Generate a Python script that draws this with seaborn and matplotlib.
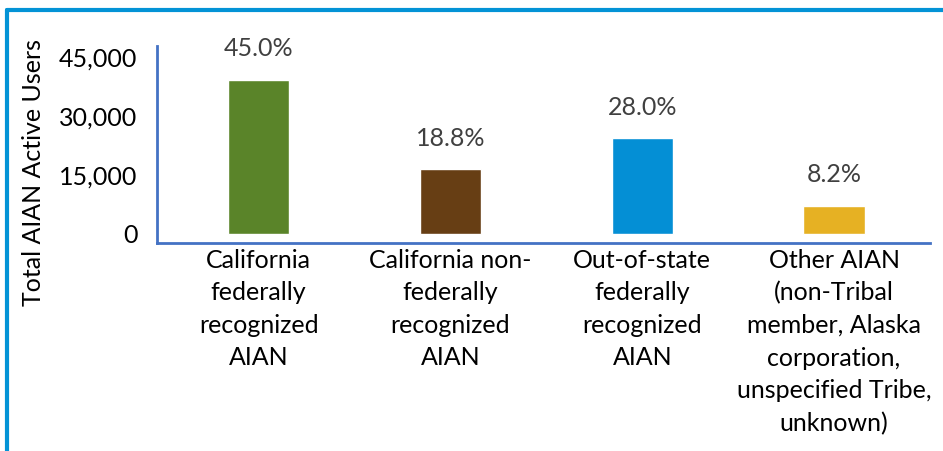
import matplotlib
matplotlib.use("Agg")
import matplotlib.pyplot as plt
import seaborn as sns
import pandas as pd
from matplotlib.lines import Line2D

categories = [
    "California\nfederally\nrecognized\nAIAN",
    "California non-\nfederally\nrecognized\nAIAN",
    "Out-of-state\nfederally\nrecognized\nAIAN",
    "Other AIAN\n(non-Tribal\nmember, Alaska\ncorporation,\nunspecified Tribe,\nunknown)",
]
users = [39100, 16300, 24300, 7100]
pct_labels = ["45.0%", "18.8%", "28.0%", "8.2%"]
colors = ["#5A8429", "#673E14", "#048FD5", "#E6B123"]
yticks = [0, 15000, 30000, 45000]
ytick_labels = ["0", "15,000", "30,000", "45,000"]

sns.set_theme(style="white")
plt.rcParams["font.family"] = ["Lato", "DejaVu Sans"]

fig = plt.figure(figsize=(9.43, 4.51), dpi=100)
ax = fig.add_axes([157 / 943, 1 - 243 / 451, (930 - 157) / 943, (243 - 46) / 451])

df = pd.DataFrame({"cat": categories, "users": users})
sns.barplot(data=df, x="cat", y="users", hue="cat", palette=colors,
            legend=False, width=0.32, ax=ax, saturation=1)

ax.set_xlim(-0.53, 3.5)
ax.set_ylim(-2400, 47700)
ax.set_yticks(yticks)
ax.set_yticklabels(ytick_labels, fontsize=18, color="black")
ax.tick_params(axis="both", length=0)
ax.tick_params(axis="y", pad=14)
ax.tick_params(axis="x", pad=4)
for lab in ax.get_xticklabels():
    lab.set_fontsize(18)
    lab.set_color("black")
    lab.set_verticalalignment("top")
    lab.set_linespacing(1.5)
ax.set_xlabel("")
ax.set_ylabel("Total AIAN Active Users", fontsize=18, color="black")
ax.yaxis.set_label_coords((45.5 - 157) / 773, (243 - 172) / 197)

for s in ["top", "right"]:
    ax.spines[s].set_visible(False)
for s in ["left", "bottom"]:
    ax.spines[s].set_color("#4472C4")
    ax.spines[s].set_linewidth(2)

for i, (v, t) in enumerate(zip(users, pct_labels)):
    ax.annotate(t, (i, v), xytext=(0, 14), textcoords="offset points",
                ha="center", va="bottom", fontsize=18, color="#404040")

# outer border (top and left)
fig.add_artist(Line2D([7 / 943, 1], [1 - 10 / 451, 1 - 10 / 451],
                      transform=fig.transFigure, color="#0393D6", lw=3))
fig.add_artist(Line2D([7 / 943, 7 / 943], [0, 1 - 10 / 451],
                      transform=fig.transFigure, color="#0393D6", lw=3))

fig.savefig("out.png", dpi=100)
